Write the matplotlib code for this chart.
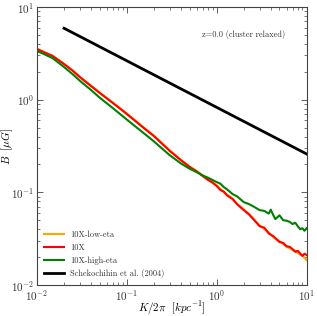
#!/usr/bin/env python3
"""Magnetic field spectrum B(K) for the relaxed cluster at z=0, three runs + slope reference."""

import matplotlib

matplotlib.use("Agg")
import matplotlib.pyplot as plt

plt.rcParams.update({
    "font.family": "serif",
    "font.serif": ["cmr10"],
    "mathtext.fontset": "cm",
    "axes.formatter.use_mathtext": True,
    "axes.unicode_minus": False,
})

# wavenumber K/2pi [kpc^-1] and field strength B [muG]
k_red = [0.01, 0.012, 0.015, 0.02, 0.025, 0.03, 0.04, 0.05, 0.07, 0.1, 0.15, 0.2, 0.3,
         0.4, 0.5, 0.6, 0.7, 0.8, 0.9, 1.0, 1.1, 1.2, 1.3, 1.5, 1.7, 2.0, 2.3, 2.6,
         3.0, 3.4, 3.8, 4.3, 5.0, 5.5, 6.0, 6.5, 7.0, 7.5, 8.0, 8.5, 9.0, 9.5, 10.0]
b_red = [3.52, 3.25, 2.95, 2.42, 2.05, 1.75, 1.40, 1.18, 0.92, 0.70, 0.506, 0.405, 0.280,
         0.222, 0.188, 0.168, 0.150, 0.136, 0.128, 0.117, 0.106, 0.102, 0.093, 0.0848, 0.074, 0.0644,
         0.0575, 0.0505, 0.0432, 0.0415, 0.0360, 0.0335, 0.0291, 0.0285, 0.0262, 0.0258, 0.0244,
         0.0228, 0.0234, 0.0219, 0.0206, 0.0218, 0.0211]

k_orange = k_red
b_orange = [3.55, 3.27, 2.97, 2.44, 2.07, 1.77, 1.42, 1.19, 0.93, 0.71, 0.512, 0.410, 0.284,
            0.225, 0.190, 0.170, 0.152, 0.139, 0.126, 0.119, 0.109, 0.100, 0.095, 0.0860, 0.0745, 0.0655,
            0.0585, 0.0512, 0.0440, 0.0400, 0.0370, 0.0325, 0.0298, 0.0278, 0.0258, 0.0250, 0.0238,
            0.0235, 0.0222, 0.0212, 0.0210, 0.0196, 0.0186]

k_green = [0.01, 0.012, 0.015, 0.02, 0.025, 0.03, 0.04, 0.05, 0.07, 0.1, 0.15, 0.2, 0.3,
           0.4, 0.5, 0.6, 0.7, 0.8, 0.9, 1.0, 1.1, 1.2, 1.3, 1.5, 1.7, 2.0, 2.3, 2.6,
           3.0, 3.4, 3.8, 4.0, 4.3, 4.5, 5.0, 5.5, 6.0, 6.5, 7.0, 7.5, 8.0, 8.5, 9.0, 9.5, 10.0]
b_green = [3.35, 3.10, 2.80, 2.25, 1.88, 1.60, 1.27, 1.05, 0.81, 0.61, 0.445, 0.355, 0.252,
           0.205, 0.180, 0.165, 0.152, 0.144, 0.136, 0.129, 0.124, 0.114, 0.108, 0.096, 0.090, 0.0785,
           0.0745, 0.0700, 0.0644, 0.0630, 0.0590, 0.0650, 0.0560, 0.0515, 0.0565, 0.0500, 0.0495,
           0.0480, 0.0455, 0.0470, 0.0430, 0.0400, 0.0410, 0.0385, 0.0410]

# Schekochihin et al. (2004) reference slope
k_ref = [0.02, 10.0]
b_ref = [5.9, 0.26]

fig = plt.figure(figsize=(3.17, 3.16), dpi=100)
ax = fig.add_axes([0.1167, 0.098, 0.8502, 0.8798])

ax.plot(k_orange, b_orange, color="orange", lw=1.5, label="10X-low-eta")
ax.plot(k_red, b_red, color="red", lw=1.5, label="10X")
ax.plot(k_green, b_green, color="green", lw=1.5, label="10X-high-eta")
ax.plot(k_ref, b_ref, color="black", lw=2.0, label="Schekochihin et al. (2004)")

ax.set_xscale("log")
ax.set_yscale("log")
ax.set_xlim(1e-2, 1e1)
ax.set_ylim(1e-2, 1e1)

ax.set_xlabel(r"$K/2\pi\ \ [kpc^{-1}]$", fontsize=8)
ax.set_ylabel(r"$B\ \ [\mu G]$", fontsize=8)
ax.xaxis.set_label_coords(0.5, -0.05)
ax.yaxis.set_label_coords(-0.082, 0.5)
ax.tick_params(which="both", direction="in", top=True, right=True, labelsize=8,
               color="#444444", labelcolor="#333333", pad=2)
ax.tick_params(which="major", length=4, width=0.6)
ax.tick_params(which="minor", length=2, width=0.5)
for s in ax.spines.values():
    s.set_color("#444444")
    s.set_linewidth(0.8)

ax.text(0.765, 0.90, "z=0.0 (cluster relaxed)", transform=ax.transAxes,
        ha="center", va="center", fontsize=6, color="#333333")

leg = ax.legend(loc="lower left", frameon=False, fontsize=6, handlelength=2.4,
                labelspacing=0.55, borderaxespad=0.4, handletextpad=0.8)
for t in leg.get_texts():
    t.set_color("#333333")

fig.savefig("out.png", dpi=100)
